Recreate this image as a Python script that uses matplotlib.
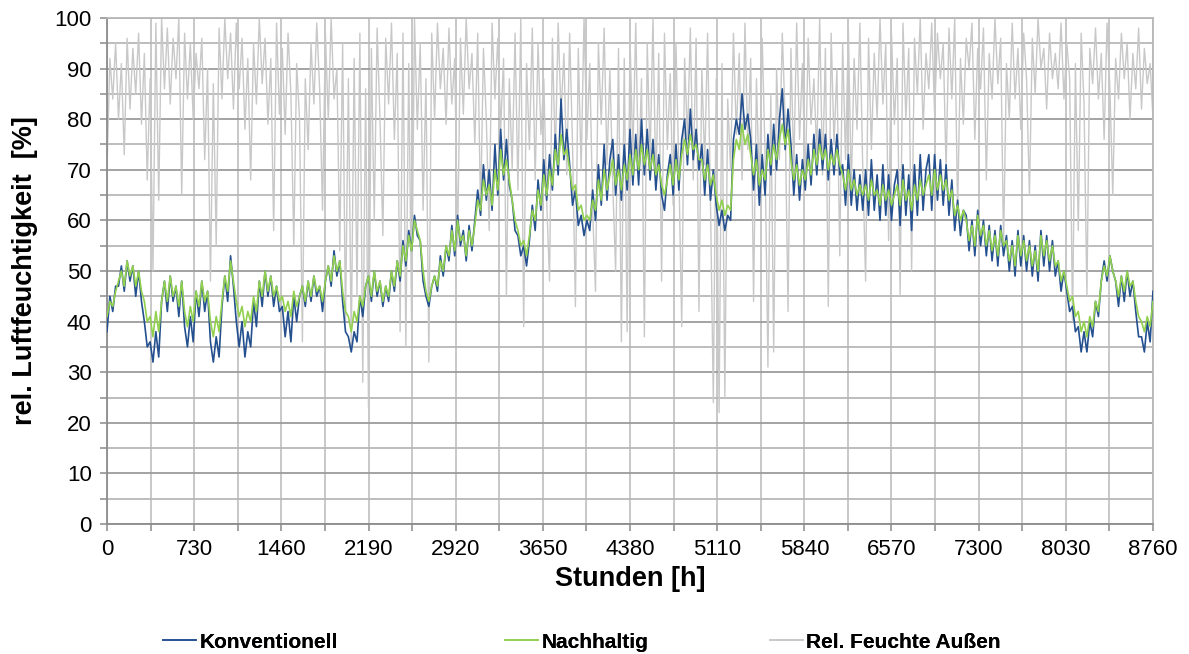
import matplotlib
matplotlib.use('Agg')
import matplotlib.pyplot as plt
import numpy as np
from matplotlib.lines import Line2D

plt.rcParams['font.family'] = ['Liberation Sans', 'DejaVu Sans']

# Tageswerte (abwechselnd Tag/Nacht), rel. Feuchte in %
konventionell = [
    38, 45, 42, 47, 47, 51, 46, 52, 48, 51, 45, 50, 44, 40, 35, 36, 32, 38, 33, 44,
    48, 42, 49, 44, 47, 41, 48, 39, 35, 41, 36, 46, 41, 48, 42, 46, 36, 32, 37, 33,
    43, 49, 44, 53, 47, 40, 35, 40, 33, 38, 35, 44, 39, 48, 43, 50, 45, 49, 43, 47,
    42, 43, 37, 42, 36, 45, 40, 45, 47, 43, 48, 44, 49, 45, 47, 42, 48, 51, 47, 54,
    49, 52, 44, 38, 37, 34, 38, 36, 45, 41, 47, 49, 44, 50, 45, 48, 43, 47, 44, 50,
    46, 52, 48, 56, 51, 58, 54, 61, 57, 56, 48, 45, 43, 47, 49, 46, 53, 49, 55, 52,
    59, 53, 61, 55, 58, 52, 59, 54, 60, 66, 61, 71, 64, 70, 62, 75, 65, 78, 68, 76,
    67, 64, 58, 57, 53, 55, 51, 56, 63, 58, 68, 62, 72, 64, 73, 66, 77, 69, 84, 72,
    78, 71, 63, 66, 59, 61, 57, 60, 58, 66, 60, 71, 63, 75, 64, 72, 76, 65, 73, 64,
    75, 66, 78, 67, 77, 67, 80, 69, 78, 68, 76, 66, 73, 65, 62, 69, 73, 65, 75, 66,
    76, 80, 71, 82, 72, 78, 70, 75, 65, 74, 64, 70, 63, 59, 62, 58, 61, 60, 76, 80,
    77, 85, 78, 81, 76, 66, 75, 63, 73, 65, 77, 69, 79, 70, 80, 86, 74, 82, 75, 65,
    73, 64, 72, 66, 75, 67, 77, 69, 78, 70, 77, 68, 76, 69, 77, 69, 71, 63, 73, 63,
    70, 62, 69, 62, 70, 61, 72, 62, 69, 60, 71, 61, 69, 60, 67, 70, 59, 71, 61, 69,
    58, 71, 61, 73, 62, 70, 73, 62, 73, 64, 72, 63, 71, 61, 68, 58, 64, 57, 62, 61,
    54, 60, 53, 62, 55, 60, 53, 59, 52, 58, 51, 59, 53, 57, 50, 56, 49, 58, 51, 57,
    50, 56, 49, 55, 48, 58, 51, 57, 50, 56, 49, 52, 46, 50, 46, 42, 43, 38, 39, 34,
    38, 34, 40, 37, 44, 41, 48, 52, 48, 53, 50, 48, 43, 49, 44, 50, 45, 48, 42, 37,
    37, 34, 40, 36, 46,
]

nachhaltig = [
    41, 44, 43, 46, 48, 50, 47, 52, 49, 51, 47, 50, 46, 44, 40, 41, 37, 42, 38, 44,
    48, 44, 49, 45, 47, 43, 48, 42, 39, 43, 40, 46, 43, 48, 44, 46, 40, 37, 41, 38,
    44, 49, 46, 52, 48, 44, 41, 43, 39, 42, 40, 45, 42, 48, 45, 50, 46, 49, 45, 47,
    44, 45, 42, 44, 41, 46, 43, 45, 47, 44, 48, 45, 49, 46, 47, 44, 48, 51, 48, 53,
    50, 52, 46, 42, 41, 38, 42, 40, 45, 43, 47, 49, 45, 50, 46, 48, 44, 47, 45, 50,
    47, 52, 49, 55, 52, 57, 54, 60, 58, 56, 50, 46, 44, 47, 49, 47, 52, 50, 55, 53,
    58, 54, 60, 56, 57, 53, 58, 55, 59, 64, 62, 68, 65, 67, 63, 70, 66, 74, 69, 72,
    68, 64, 60, 58, 55, 56, 53, 57, 62, 60, 66, 63, 69, 65, 70, 67, 74, 71, 77, 73,
    74, 70, 66, 67, 62, 63, 60, 61, 60, 64, 62, 68, 64, 70, 66, 69, 72, 67, 70, 66,
    71, 68, 73, 69, 74, 70, 75, 71, 74, 70, 73, 69, 71, 67, 65, 68, 71, 67, 72, 68,
    73, 76, 73, 77, 74, 75, 72, 72, 68, 71, 67, 69, 65, 62, 64, 61, 63, 62, 72, 76,
    74, 79, 75, 77, 73, 69, 72, 67, 70, 68, 74, 71, 75, 72, 76, 79, 75, 78, 72, 68,
    71, 67, 70, 68, 72, 69, 74, 71, 75, 72, 74, 70, 73, 71, 74, 71, 69, 66, 70, 66,
    68, 65, 67, 65, 67, 64, 68, 65, 66, 63, 67, 64, 66, 63, 65, 67, 63, 68, 64, 66,
    62, 67, 64, 68, 65, 67, 69, 65, 70, 66, 69, 66, 68, 64, 66, 61, 63, 60, 62, 60,
    56, 59, 55, 61, 57, 59, 55, 58, 54, 57, 53, 58, 55, 56, 52, 55, 51, 57, 53, 56,
    52, 55, 51, 54, 50, 57, 53, 56, 52, 55, 51, 52, 48, 50, 47, 44, 45, 41, 42, 38,
    40, 37, 41, 39, 44, 42, 48, 51, 49, 53, 50, 48, 45, 49, 46, 50, 47, 48, 44, 41,
    40, 38, 41, 39, 44,
]

aussen = [
    70, 92, 84, 95, 80, 91, 73, 96, 82, 94, 85, 97, 79, 93, 68, 88, 50, 99, 64, 100,
    86, 98, 83, 96, 88, 100, 65, 97, 84, 95, 80, 93, 86, 96, 72, 90, 48, 87, 55, 98,
    84, 100, 88, 97, 82, 99, 86, 96, 78, 92, 68, 95, 83, 100, 87, 96, 79, 92, 58, 99,
    81, 94, 77, 97, 85, 55, 91, 80, 36, 88, 74, 95, 83, 99, 86, 62, 97, 80, 100, 84,
    90, 54, 95, 40, 88, 35, 92, 45, 97, 28, 86, 23, 94, 60, 98, 80, 57, 96, 83, 99,
    76, 93, 38, 97, 35, 91, 40, 100, 78, 95, 62, 88, 32, 97, 80, 99, 86, 94, 79, 98,
    83, 92, 55, 96, 81, 100, 86, 93, 75, 97, 61, 94, 80, 58, 99, 84, 96, 78, 92, 45,
    88, 70, 97, 66, 100, 39, 91, 74, 98, 68, 95, 77, 88, 64, 48, 96, 72, 99, 81, 93,
    69, 97, 75, 43, 94, 70, 100, 76, 91, 62, 46, 95, 79, 98, 71, 90, 67, 50, 94, 36,
    92, 38, 96, 73, 99, 68, 88, 37, 95, 72, 100, 66, 93, 48, 97, 74, 89, 63, 95, 70,
    39, 92, 76, 98, 68, 96, 42, 90, 71, 97, 64, 24, 88, 22, 91, 25, 84, 70, 97, 77,
    93, 68, 99, 74, 92, 44, 88, 66, 96, 73, 31, 85, 34, 90, 72, 97, 80, 42, 94, 70,
    99, 76, 91, 67, 96, 79, 88, 73, 100, 69, 94, 43, 97, 75, 90, 53, 95, 72, 98, 66,
    92, 78, 99, 70, 48, 96, 74, 93, 80, 100, 83, 95, 56, 97, 79, 92, 45, 99, 80, 94,
    50, 96, 85, 100, 78, 93, 86, 99, 81, 97, 88, 95, 70, 98, 84, 100, 62, 92, 79, 96,
    90, 99, 76, 94, 86, 98, 68, 93, 84, 100, 87, 96, 55, 91, 80, 99, 84, 94, 78, 97,
    88, 65, 96, 85, 100, 90, 94, 82, 97, 88, 93, 86, 99, 84, 95, 88, 40, 91, 58, 97,
    83, 45, 94, 87, 98, 84, 93, 76, 99, 86, 65, 92, 84, 97, 88, 95, 80, 93, 86, 98,
    82, 94, 87, 91, 80,
]

stunden = np.linspace(0, 8760, len(aussen))

c_konv = '#24508f'
c_nach = '#92d050'
c_aus = '#c8c8c8'

fig = plt.figure(figsize=(11.89, 6.54), dpi=100)
ax = fig.add_axes([107/1189, 1 - 524/654, 1046/1189, 506/654])

ax.plot(stunden, aussen, color=c_aus, lw=1.0, zorder=2)
ax.plot(stunden, konventionell, color=c_konv, lw=1.2, zorder=3)
ax.plot(stunden, nachhaltig, color=c_nach, lw=1.2, zorder=4)

ax.set_xlim(0, 8760)
ax.set_ylim(0, 100)
ax.set_xticks(np.arange(0, 8761, 730))
ax.set_xticks(np.arange(0, 8761, 365), minor=True)
ax.set_yticks(np.arange(0, 101, 10))
ax.set_yticks(np.arange(0, 101, 5), minor=True)

ax.grid(which='major', axis='y', color='#9c9c9c', lw=1.3, zorder=1)
ax.grid(which='minor', axis='y', color='#b8b8b8', lw=1.3, zorder=1)
ax.grid(which='both', axis='x', color='#c4c4c4', lw=1.3, zorder=1)
ax.set_axisbelow(True)

ax.tick_params(which='both', direction='out', length=5, width=1.3, color='#9c9c9c',
               labelsize=16, pad=6)
for sp in ['left', 'bottom']:
    ax.spines[sp].set_color('#8c8c8c')
    ax.spines[sp].set_linewidth(1.3)
for sp in ['top', 'right']:
    ax.spines[sp].set_color('#b8b8b8')
    ax.spines[sp].set_linewidth(1.3)

ax.set_xlabel('Stunden [h]', fontsize=19.5, fontweight='bold', labelpad=4)
ax.set_ylabel('rel. Luftfeuchtigkeit  [%]', fontsize=19.5, fontweight='bold', labelpad=12)

eintraege = [('Konventionell', c_konv, 163), ('Nachhaltig', c_nach, 505),
             ('Rel. Feuchte Außen', c_aus, 770)]
for name, col, xpos in eintraege:
    h = Line2D([], [], color=col, lw=1.2)
    leg = fig.legend(handles=[h], labels=[name], loc='center left',
                     bbox_to_anchor=(xpos/1189, 1 - 642/654), frameon=False,
                     borderpad=0, borderaxespad=0, handlelength=1.6, handletextpad=0.15,
                     prop={'size': 15, 'weight': 'bold'})
    fig.add_artist(leg)

fig.savefig('out.png', dpi=100)
